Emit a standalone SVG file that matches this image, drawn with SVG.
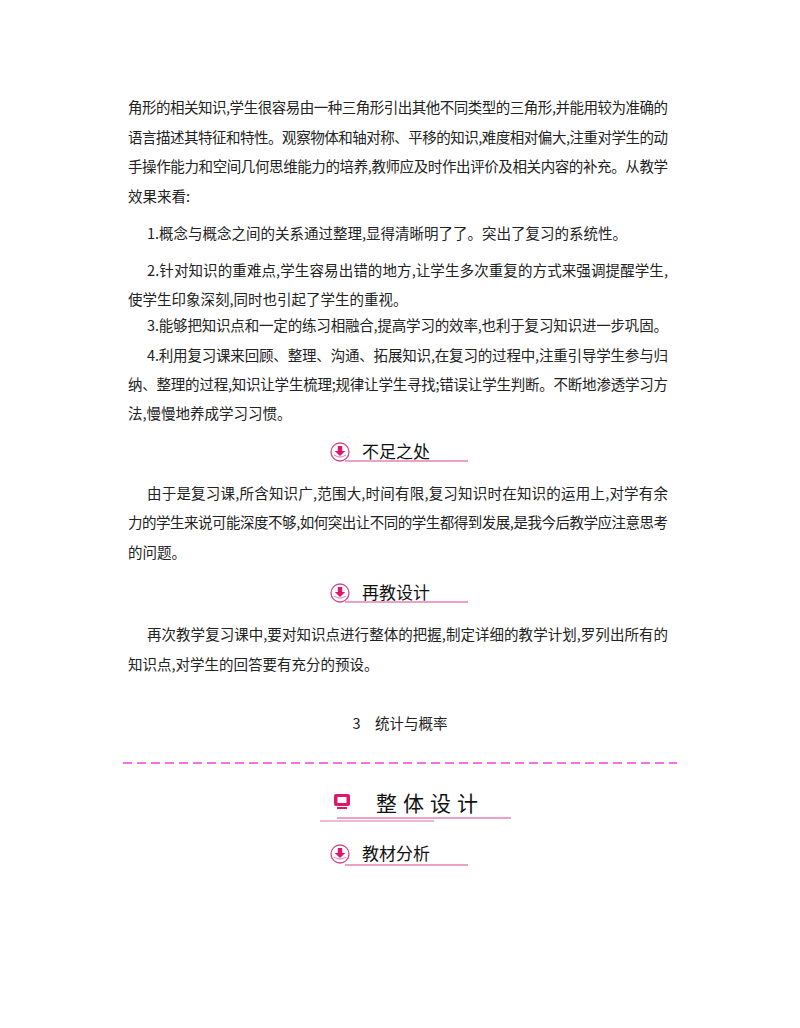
<svg xmlns="http://www.w3.org/2000/svg" width="800" height="1028" viewBox="0 0 800 1028">
<style>
.t{font-family:"Noto Sans CJK SC","Liberation Serif",serif;font-size:14.5px;fill:#222}
.h{font-family:"Noto Sans CJK SC",sans-serif;font-size:17px;fill:#111}
.ul{stroke:#d4488f;stroke-width:1.2}
</style>
<defs>
<g id="ico">
<circle cx="0" cy="0" r="9" fill="#fff" stroke="#d4488f" stroke-width="1.3"/>
<path d="M-2.2,-6 h4.4 v5 h3 l-5.2,5 l-5.2,-5 h3z" fill="#e0156e"/>
<path d="M-6,3 q6,4 12,0" fill="none" stroke="#e89abf" stroke-width="1.3"/>
</g>
</defs>
<g id="body">
<text class="t" x="128" y="113" textLength="540" lengthAdjust="spacing">角形的相关知识,学生很容易由一种三角形引出其他不同类型的三角形,并能用较为准确的</text>
<text class="t" x="128" y="143" textLength="540" lengthAdjust="spacing">语言描述其特征和特性。观察物体和轴对称、平移的知识,难度相对偏大,注重对学生的动</text>
<text class="t" x="128" y="172" textLength="540" lengthAdjust="spacing">手操作能力和空间几何思维能力的培养,教师应及时作出评价及相关内容的补充。从教学</text>
<text class="t" x="128" y="202">效果来看:</text>
<text class="t" x="147" y="239">1.概念与概念之间的关系通过整理,显得清晰明了了。突出了复习的系统性。</text>
<text class="t" x="147" y="276" textLength="521" lengthAdjust="spacing">2.针对知识的重难点,学生容易出错的地方,让学生多次重复的方式来强调提醒学生,</text>
<text class="t" x="128" y="305">使学生印象深刻,同时也引起了学生的重视。</text>
<text class="t" x="147" y="331" textLength="521" lengthAdjust="spacing">3.能够把知识点和一定的练习相融合,提高学习的效率,也利于复习知识进一步巩固。</text>
<text class="t" x="147" y="361" textLength="521" lengthAdjust="spacing">4.利用复习课来回顾、整理、沟通、拓展知识,在复习的过程中,注重引导学生参与归</text>
<text class="t" x="128" y="390" textLength="540" lengthAdjust="spacing">纳、整理的过程,知识让学生梳理;规律让学生寻找;错误让学生判断。不断地渗透学习方</text>
<text class="t" x="128" y="419">法,慢慢地养成学习习惯。</text>
<text class="t" x="147" y="499" textLength="521" lengthAdjust="spacing">由于是复习课,所含知识广,范围大,时间有限,复习知识时在知识的运用上,对学有余</text>
<text class="t" x="128" y="528" textLength="540" lengthAdjust="spacing">力的学生来说可能深度不够,如何突出让不同的学生都得到发展,是我今后教学应注意思考</text>
<text class="t" x="128" y="558">的问题。</text>
<text class="t" x="147" y="640" textLength="521" lengthAdjust="spacing">再次教学复习课中,要对知识点进行整体的把握,制定详细的教学计划,罗列出所有的</text>
<text class="t" x="128" y="670">知识点,对学生的回答要有充分的预设。</text>
<text class="t" x="400" y="729" text-anchor="middle" font-size="13">3　统计与概率</text>
</g>
<g id="hdr1"><use href="#ico" x="340" y="452"/><text class="h" x="362" y="458">不足之处</text><line class="ul" x1="345" y1="461" x2="468" y2="461"/></g>
<g id="hdr2"><use href="#ico" x="340" y="593"/><text class="h" x="362" y="599">再教设计</text><line class="ul" x1="345" y1="602" x2="468" y2="602"/></g>
<line x1="123" y1="763" x2="677" y2="763" stroke="#ee44dd" stroke-width="1.3" stroke-dasharray="9,5"/>
<g id="hdr3">
<rect x="334" y="794" width="16" height="12" rx="2" fill="#e0156e"/>
<rect x="337.5" y="797" width="9" height="6" fill="#fff"/>
<rect x="337" y="807" width="10" height="2" fill="#e0156e"/>
<text x="376" y="811" font-family="Noto Sans CJK SC,sans-serif" font-size="21" letter-spacing="6" fill="#111">整体设计</text>
<line x1="320" y1="821" x2="434" y2="821" stroke="#e8a0c8" stroke-width="1.5"/>
<line x1="337" y1="818" x2="511" y2="818" stroke="#d4488f" stroke-width="1"/>
</g>
<g id="hdr4"><use href="#ico" x="340" y="854"/><text class="h" x="362" y="860">教材分析</text><line class="ul" x1="345" y1="865" x2="468" y2="865"/></g>
</svg>
